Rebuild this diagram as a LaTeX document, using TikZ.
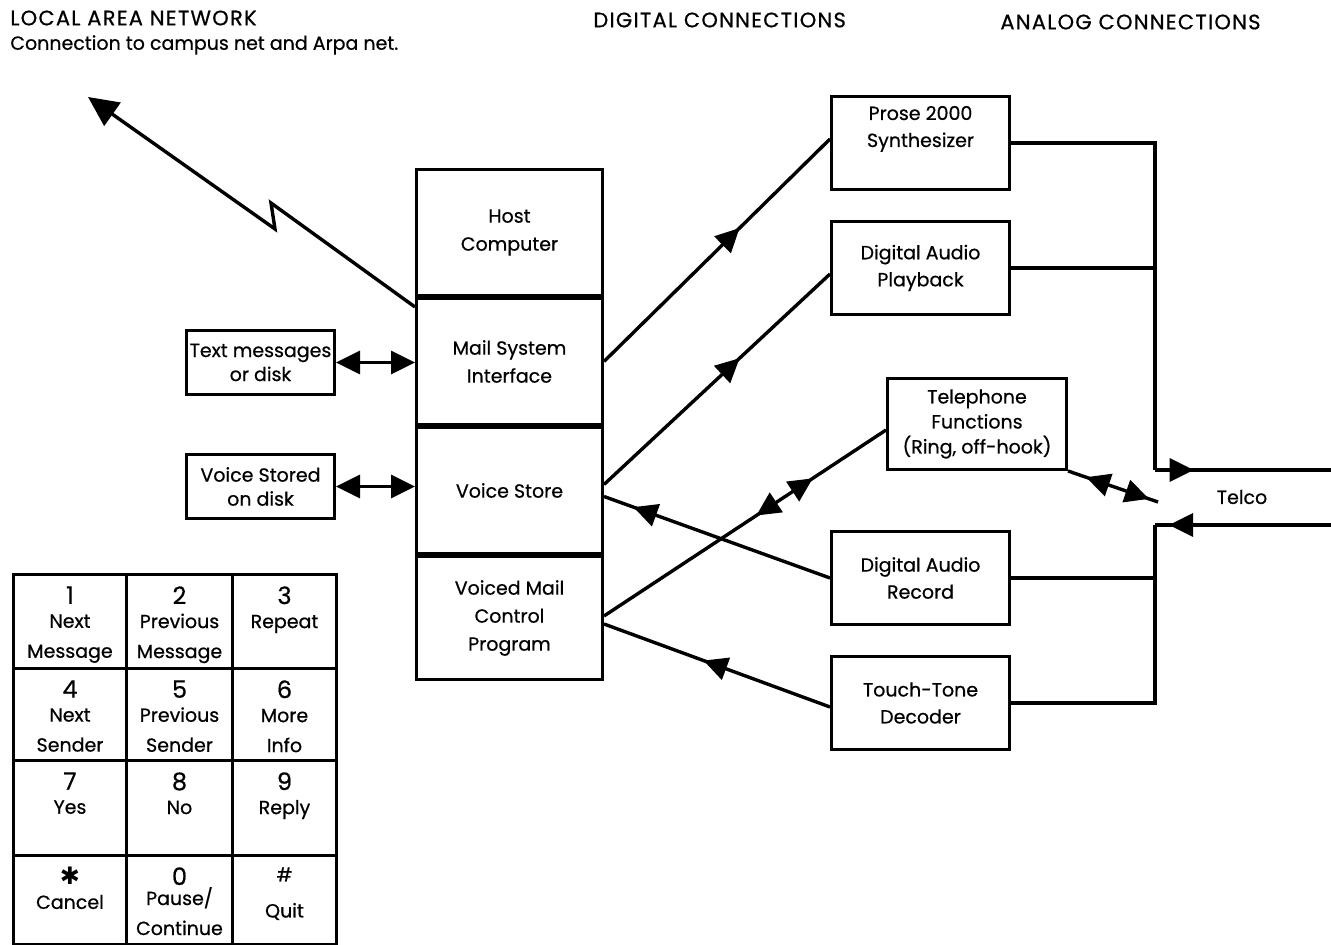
\documentclass[tikz,border=0pt]{standalone}
\usepackage{fontspec}
\setmainfont{Poppins}[FakeBold=0.6]
\newfontfamily\symfont{DejaVu Sans}
\usetikzlibrary{positioning, arrows.meta, decorations.markings}
\tikzset{tipHead/.tip={Triangle[length=12pt, width=11.5pt]}}

\begin{document}
\begin{tikzpicture}[x=0.5pt, y=-0.5pt,
    wire/.style={line width=1.7pt},
    stackBox/.style={draw, line width=1.5pt, rectangle, minimum width=93pt, minimum height=63pt, align=center, font=\fontsize{9.5}{14}\selectfont, inner sep=2pt},
    unitBox/.style={draw, line width=1.5pt, rectangle, anchor=north west, minimum width=89pt, minimum height=46.5pt, align=center, font=\fontsize{9.5}{13.5}\selectfont, inner sep=2pt},
    diskBox/.style={draw, line width=1.5pt, rectangle, anchor=north west, minimum width=74pt, minimum height=32pt, align=center, font=\fontsize{9.5}{12}\selectfont, inner sep=1pt},
    keyCell/.style={draw, line width=1.5pt, rectangle, anchor=north west, inner sep=0pt},
    keyText/.style={anchor=north, align=center, font=\fontsize{9.5}{15}\selectfont, inner sep=2pt, yshift=-4.5pt},
    heading/.style={anchor=west, font=\fontsize{10.5}{12}\selectfont\addfontfeature{LetterSpace=6}, inner sep=0pt},
    note/.style={anchor=west, font=\fontsize{9.5}{12}\selectfont, inner sep=0pt},
    fwdAt/.style={postaction={decorate, decoration={markings, mark=at position #1 with {\arrow{tipHead}}}}},
    backAt/.style={postaction={decorate, decoration={markings, mark=at position #1 with {\arrowreversed{tipHead}}}}},
]
\useasboundingbox (0,0) rectangle (1331,945);

\node[heading] (lanTitle) at (10,18) {LOCAL AREA NETWORK};
\node[note] (lanNote) at (10,45) {Connection to campus net and Arpa net.};
\node[heading] (digTitle) at (593,20) {DIGITAL CONNECTIONS};
\node[heading] (anaTitle) at (1000,22) {ANALOG CONNECTIONS};

\node[stackBox, anchor=north west] (host) at (415,168) {Host\\Computer};
\node[stackBox, below=0pt of host] (mailIf) {Mail System\\Interface};
\node[stackBox, below=0pt of mailIf] (voiceStore) {Voice Store};
\node[stackBox, below=0pt of voiceStore, minimum height=61.5pt] (control) {Voiced Mail\\Control\\Program};

\node[diskBox] (textDisk) at (185,329) {Text messages\\or disk};
\node[diskBox] (voiceDisk) at (185,453) {Voice Stored\\on disk};

\node[unitBox] (prose) at (830,95) {Prose 2000\\Synthesizer\\[3pt]};
\node[unitBox] (playback) at (830,220) {Digital Audio\\Playback};
\node[unitBox, minimum width=89.5pt, minimum height=45.5pt, font=\fontsize{9.5}{12.5}\selectfont] (phoneFn) at (886,377) {Telephone\\Functions\\(Ring, off-hook)};
\node[unitBox] (record) at (830,530) {Digital Audio\\Record};
\node[unitBox] (touchTone) at (830,655) {Touch-Tone\\Decoder};

\node[font=\fontsize{9.5}{12}\selectfont] (telco) at (1242,497) {Telco};

\coordinate (lan) at (88,97);
\coordinate (busTop) at (1155,470);
\coordinate (busBot) at (1155,525);
\coordinate (lineIn) at (1331,470);
\coordinate (lineOut) at (1331,525);
\coordinate (hookEnd) at (1158,502);

\draw[wire, -{Triangle[length=15pt, width=14pt]}] ([yshift=-5pt]mailIf.north west) -- (271,203) -- (275,229) -- (lan);

\draw[wire, {tipHead}-{tipHead}] (textDisk.east) -- (textDisk.east -| mailIf.west);
\draw[wire, {tipHead}-{tipHead}] (voiceDisk.east) -- (voiceDisk.east -| voiceStore.west);

\draw[wire, fwdAt=0.6] (mailIf.east) -- ([yshift=2pt]prose.west);
\draw[wire, fwdAt=0.6] ([yshift=3pt]voiceStore.east) -- ([yshift=-3pt]playback.west);
\draw[wire, fwdAt=0.87] (record.west) -- ([yshift=-3pt]voiceStore.east);
\draw[wire, backAt=0.54, fwdAt=0.74] ([yshift=1pt]control.east) -- ([yshift=-3pt]phoneFn.west);
\draw[wire, fwdAt=0.56] ([yshift=-2pt]touchTone.west) -- ([yshift=-3pt]control.east);

\draw[wire] (prose.east) -| (busTop);
\draw[wire] (playback.east) -- (playback.east -| busTop);
\draw[wire, fwdAt=0.22] (busTop) -- (lineIn);
\draw[wire, fwdAt=0.92] (lineOut) -- (busBot);
\draw[wire] (touchTone.east) -| (busBot);
\draw[wire] (record.east) -- (record.east -| busBot);
\draw[wire, backAt=0.2, fwdAt=0.9] (phoneFn.south east) -- (hookEnd);

\node[keyCell, minimum width=56.5pt, minimum height=47pt] (k1) at (12,573) {};
\node[keyCell, minimum width=53pt, minimum height=47pt] (k2) at (125,573) {};
\node[keyCell, minimum width=52pt, minimum height=47pt] (k3) at (231,573) {};
\node[keyCell, minimum width=56.5pt, minimum height=46pt] (k4) at (12,667) {};
\node[keyCell, minimum width=53pt, minimum height=46pt] (k5) at (125,667) {};
\node[keyCell, minimum width=52pt, minimum height=46pt] (k6) at (231,667) {};
\node[keyCell, minimum width=56.5pt, minimum height=47.5pt] (k7) at (12,759) {};
\node[keyCell, minimum width=53pt, minimum height=47.5pt] (k8) at (125,759) {};
\node[keyCell, minimum width=52pt, minimum height=47.5pt] (k9) at (231,759) {};
\node[keyCell, minimum width=56.5pt, minimum height=44.5pt] (kStar) at (12,854) {};
\node[keyCell, minimum width=53pt, minimum height=44.5pt] (k0) at (125,854) {};
\node[keyCell, minimum width=52pt, minimum height=44.5pt] (kHash) at (231,854) {};

\node[keyText] (t1) at (k1.north) {\large 1\\[-3pt]Next\\Message};
\node[keyText] (t2) at (k2.north) {\large 2\\[-3pt]Previous\\Message};
\node[keyText] (t3) at (k3.north) {\large 3\\[-3pt]Repeat};
\node[keyText] (t4) at (k4.north) {\large 4\\[-3pt]Next\\Sender};
\node[keyText] (t5) at (k5.north) {\large 5\\[-3pt]Previous\\Sender};
\node[keyText] (t6) at (k6.north) {\large 6\\[-3pt]More\\Info};
\node[keyText] (t7) at (k7.north) {\large 7\\[-3pt]Yes};
\node[keyText] (t8) at (k8.north) {\large 8\\[-3pt]No};
\node[keyText] (t9) at (k9.north) {\large 9\\[-3pt]Reply};
\node[keyText] (tStar) at (kStar.north) {{\symfont\large ✱}\\[-3pt]Cancel};
\node[keyText] (t0) at (k0.north) {\large 0\\[-5pt]Pause/\\Continue};
\node[keyText] (tHash) at (kHash.north) {\#\\[3pt]Quit};
\end{tikzpicture}
\end{document}
